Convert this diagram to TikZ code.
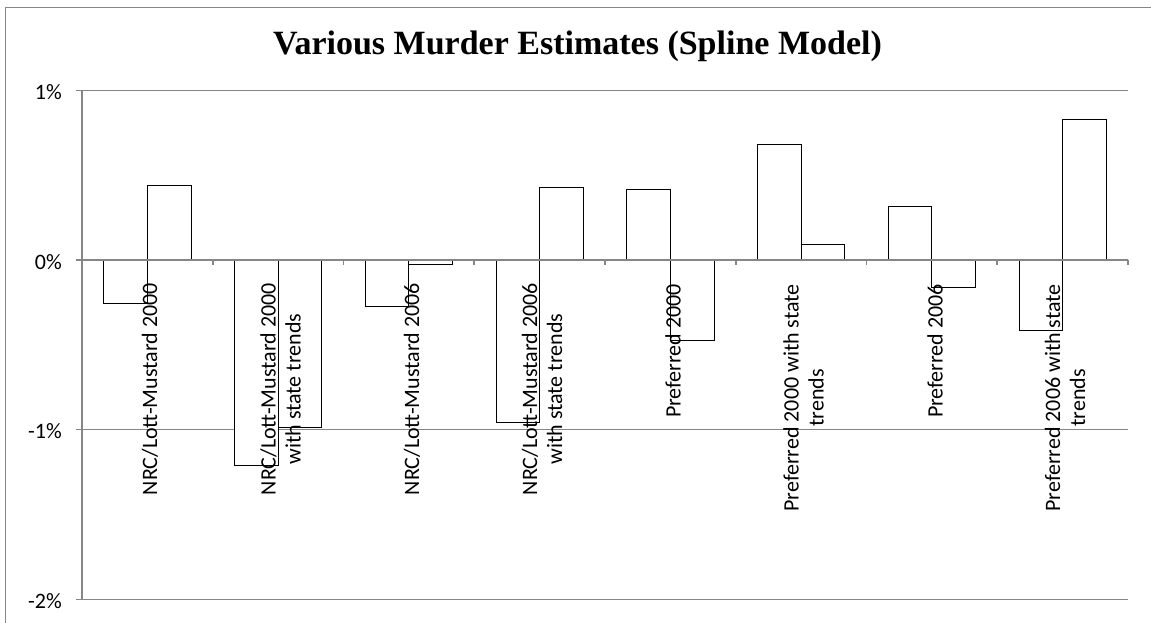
\documentclass[tikz,border=0pt]{standalone}
\usepackage{fontspec}
\setmainfont{Carlito}
\newfontfamily\titlefont{Liberation Serif}
\definecolor{gridgray}{HTML}{868686}
\begin{document}
\begin{tikzpicture}[x=1pt,y=-1pt,
  gridline/.style={draw=gridgray,line width=1pt},
  axisline/.style={draw=gridgray,line width=1.6pt},
  barbox/.style={draw=black,fill=white,line width=1pt},
  catlabel/.style={rotate=90,anchor=east,align=center,inner sep=0pt,font=\fontsize{22}{25}\selectfont},
  ticklabel/.style={anchor=base east,inner sep=0pt,font=\fontsize{22}{25}\selectfont},
  titlestyle/.style={anchor=base,inner sep=0pt,font=\titlefont\bfseries\fontsize{34}{40}\selectfont}]
\useasboundingbox (0,0) rectangle (1151,623);
\fill[white] (0,0) rectangle (1151,623);
% chart frame (left and top edges visible)
\draw[gridgray,line width=1pt] (5.5,623) -- (5.5,7.5) -- (1151,7.5);
% title
\node[titlestyle] (title) at (577.5,55) {Various Murder Estimates (Spline Model)};
% gridlines
\foreach \v in {1,-1,-2} {
  \draw[gridline] (76,{260-169.5*\v}) -- (1128,{260-169.5*\v});
}
% y tick labels
\node[ticklabel] (t1) at (62,{260-169.5+9}) {1\%};
\node[ticklabel] (t0) at (62,{260+9}) {0\%};
\node[ticklabel] (tm1) at (62,{260+169.5+9}) {-1\%};
\node[ticklabel] (tm2) at (62,{260+339+9}) {-2\%};
% bars
\foreach \k/\a/\b in {0/-0.256/0.437, 1/-1.213/-0.99, 2/-0.276/-0.025, 3/-0.96/0.427,
                      4/0.418/-0.476, 5/0.684/0.089, 6/0.313/-0.161, 7/-0.413/0.83} {
  \pgfmathsetmacro\xs{82+130.75*\k}
  \draw[barbox] ({\xs+21.8},260) rectangle ({\xs+65.4},{260-169.5*\a});
  \draw[barbox] ({\xs+65.4},260) rectangle ({\xs+109},{260-169.5*\b});
}
% axes
\draw[axisline] (82,90.5) -- (82,599.5);
\draw[axisline] (76,260) -- (1128,260);
\foreach \k in {1,...,8} {
  \draw[axisline] ({82+130.75*\k},260) -- ({82+130.75*\k},265);
}
% category labels
\node[catlabel] (c1) at (150,283) {NRC/Lott-Mustard 2000};
\node[catlabel] (c2) at (280.5,283) {NRC/Lott-Mustard 2000\\with state trends};
\node[catlabel] (c3) at (412,283) {NRC/Lott-Mustard 2006};
\node[catlabel] (c4) at (542,283) {NRC/Lott-Mustard 2006\\with state trends};
\node[catlabel] (c5) at (673,284) {Preferred 2000};
\node[catlabel] (c6) at (803.5,284) {Preferred 2000 with state\\trends};
\node[catlabel] (c7) at (935,284) {Preferred 2006};
\node[catlabel] (c8) at (1065,284) {Preferred 2006 with state\\trends};
\end{tikzpicture}
\end{document}
